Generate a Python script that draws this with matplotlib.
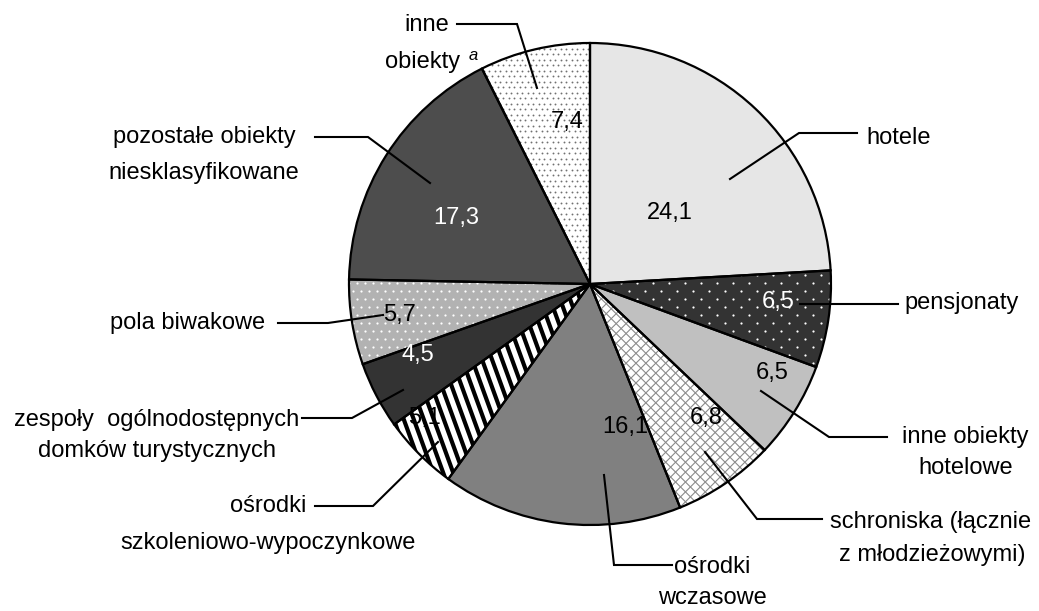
import numpy as np
import matplotlib
matplotlib.use("Agg")
import matplotlib.pyplot as plt
from matplotlib.collections import LineCollection

plt.rcParams['font.family'] = ['Liberation Sans', 'DejaVu Sans']

# data (share of accommodation, %), clockwise from 12 o'clock
categories = ["hotele", "pensjonaty", "inne obiekty hotelowe",
              "schroniska (łącznie z młodzieżowymi)", "ośrodki wczasowe",
              "ośrodki szkoleniowo-wypoczynkowe",
              "zespoły ogólnodostępnych domków turystycznych",
              "pola biwakowe", "pozostałe obiekty niesklasyfikowane",
              "inne obiekty"]
shares = [24.1, 6.5, 6.5, 6.8, 16.1, 5.1, 4.5, 5.7, 17.3, 7.4]
label_lines = [["hotele"], ["pensjonaty"], ["inne obiekty", "hotelowe"],
               ["schroniska (łącznie", "z młodzieżowymi)"], ["ośrodki", "wczasowe"],
               ["ośrodki", "szkoleniowo-wypoczynkowe"],
               ["zespoły  ogólnodostępnych", "domków turystycznych"],
               ["pola biwakowe"], ["pozostałe obiekty", "niesklasyfikowane"],
               ["inne", "obiekty"]]
value_text = [f"{v:.1f}".replace(".", ",") for v in shares]

# styling
faces = ["#e6e6e6", "#333333", "#c0c0c0", "white", "#808080",
         "white", "#333333", "#b2b2b2", "#4d4d4d", "white"]
value_colors = ["black", "white", "black", "black", "black",
                "black", "white", "black", "white", "black"]
value_pos = [(670, 213), (778, 302), (772, 373), (706, 418), (625, 427),
             (424, 418), (418, 355), (400, 315), (456, 218), (567, 122)]
label_pos = [[(899, 138)], [(962, 303)], [(965, 437), (966, 468)],
             [(931, 522), (932, 555)], [(712, 567), (712, 598)],
             [(268, 506), (268, 543)], [(157, 420), (157, 451)],
             [(188, 323)], [(204, 137), (204, 173)],
             [(427, 25), (423, 62)]]
leaders = [[(730, 179), (799, 133), (857, 133)],
           [(800, 304), (898, 304)],
           [(761, 391), (829, 437), (887, 437)],
           [(705, 452), (757, 519), (822, 519)],
           [(604, 475), (614, 565), (672, 565)],
           [(438, 442), (373, 506), (315, 506)],
           [(403, 390), (352, 418), (302, 418)],
           [(383, 315), (328, 323), (278, 323)],
           [(430, 183), (368, 137), (315, 137)],
           [(537, 88), (517, 24), (457, 24)]]

CX, CY, R = 590, 284, 241
FS = 17

fig = plt.figure(figsize=(10.39, 6.11), dpi=100)
ax = fig.add_axes([0, 0, 1, 1])
wedges, _ = ax.pie(shares, startangle=-90, counterclock=True, center=(CX, CY),
                   radius=R, colors=faces, wedgeprops=dict(linewidth=0))
ax.pie(shares, startangle=-90, counterclock=True, center=(CX, CY), radius=R,
       wedgeprops=dict(fill=False, edgecolor="black", linewidth=1.6, zorder=5))
ax.set_xlim(0, 1039)
ax.set_ylim(611, 0)
ax.set_aspect("equal")
ax.axis("off")


def dots(wedge, sx, sy, color, size):
    pts = []
    for k, y in enumerate(np.arange(CY - R, CY + R, sy)):
        off = (sx / 2) * (k % 2)
        for x in np.arange(CX - R + off, CX + R, sx):
            pts.append((x, y))
    pts = np.array(pts)
    sc = ax.scatter(pts[:, 0], pts[:, 1], s=size, c=color, linewidths=0, zorder=3)
    sc.set_clip_path(wedge)


def lines(wedge, angle, spacing, color, lw):
    a = np.deg2rad(angle)
    d = np.array([np.cos(a), np.sin(a)])
    n = np.array([-d[1], d[0]])
    c = np.array([CX, CY])
    segs = [[c + o * n - 2 * R * d, c + o * n + 2 * R * d]
            for o in np.arange(-1.5 * R, 1.5 * R, spacing)]
    lc = LineCollection(segs, colors=color, linewidths=lw, zorder=3)
    ax.add_collection(lc)
    lc.set_clip_path(wedge)


dots(wedges[1], 16, 8, "white", 2.5)
lines(wedges[3], 45, 7, "#8a8a8a", 0.8)
lines(wedges[3], 135, 7, "#8a8a8a", 0.8)
lines(wedges[5], 70, 9.4, "black", 3.0)
dots(wedges[7], 8, 8, "white", 2.5)
dots(wedges[9], 5.5, 5.5, "#707070", 1.8)

for txt, (x, y), col in zip(value_text, value_pos, value_colors):
    ax.text(x, y, txt, color=col, fontsize=FS, ha="center", va="center", zorder=6)

for lines_, poss in zip(label_lines, label_pos):
    for txt, (x, y) in zip(lines_, poss):
        ax.text(x, y, txt, fontsize=FS, ha="center", va="center", zorder=6)
ax.text(473, 55, "a", fontsize=12, style="italic", ha="center", va="center", zorder=6)

for pts in leaders:
    pts = np.array(pts)
    ax.plot(pts[:, 0], pts[:, 1], color="black", linewidth=1.5, zorder=6,
            solid_joinstyle="miter")

fig.savefig("out.png", dpi=100)
